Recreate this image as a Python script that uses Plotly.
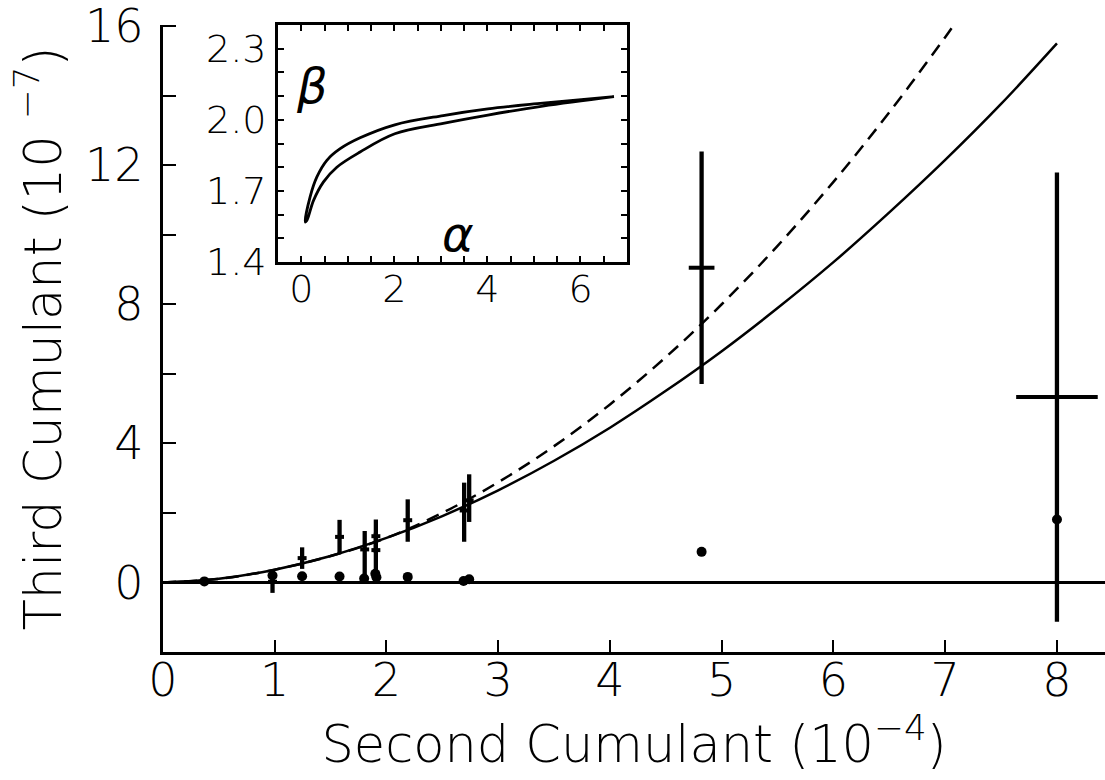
import plotly.graph_objects as go

# ---------------- data ----------------
# model curves (main panel)
solid_x = [0, 0.5, 1.0, 1.5, 2.0, 2.5, 3.0, 3.5, 4.0, 4.5, 5.0, 5.5, 6.0, 6.5, 7.0, 7.5, 8.0]
solid_y = [0, 0.105, 0.367, 0.76, 1.28, 1.91, 2.65, 3.50, 4.45, 5.51, 6.65, 7.89, 9.21, 10.64, 12.15, 13.76, 15.5]
dash_x = [0, 0.5, 1.0, 1.5, 2.0, 2.5, 3.0, 3.5, 4.0, 4.5, 5.0, 5.5, 6.0, 6.5, 7.0, 7.07]
dash_y = [0, 0.105, 0.367, 0.76, 1.28, 2.0, 2.88, 3.92, 5.12, 6.48, 8.0, 9.68, 11.52, 13.52, 15.68, 16.0]

# measurements with error bars
cross_x = [0.98, 1.245, 1.58, 1.805, 1.905, 1.905, 2.19, 2.695, 2.74, 4.82, 8.0]
cross_y = [0.02, 0.70, 1.31, 0.95, 1.33, 0.93, 1.79, 2.07, 2.36, 9.05, 5.33]
cross_err_up = [0.32, 0.31, 0.49, 0.53, 0.48, 0.50, 0.60, 0.80, 0.75, 3.34, 6.46]
cross_err_dn = [0.32, 0.31, 0.49, 0.74, 0.48, 0.70, 0.62, 0.90, 0.62, 3.34, 6.46]
cross_xerr = [0.04, 0.04, 0.04, 0.04, 0.04, 0.04, 0.04, 0.04, 0.04, 0.115, 0.365]

# filled dots
dot_x = [0.37, 0.98, 1.245, 1.58, 1.80, 1.90, 1.91, 2.19, 2.69, 2.74, 4.82, 8.0]
dot_y = [0.03, 0.20, 0.18, 0.17, 0.11, 0.25, 0.15, 0.16, 0.04, 0.09, 0.88, 1.81]

# inset: beta vs alpha (closed loop: upper branch then lower branch)
inset_up_a = [0.086, 0.19, 0.336, 0.55, 0.836, 1.264, 2.01, 3.05, 4.01, 5.19, 6.72]
inset_up_b = [1.569, 1.675, 1.759, 1.829, 1.878, 1.924, 1.979, 2.018, 2.046, 2.070, 2.098]
inset_lo_a = [6.72, 5.19, 4.01, 3.05, 2.01, 1.264, 0.764, 0.478, 0.264, 0.12, 0.086]
inset_lo_b = [2.098, 2.058, 2.020, 1.985, 1.941, 1.864, 1.800, 1.738, 1.660, 1.575, 1.569]

main_xticks = [0, 1, 2, 3, 4, 5, 6, 7, 8]
main_yticks = [0, 4, 8, 12, 16]
inset_xticks = [0, 2, 4, 6]
inset_yticks = [1.4, 1.7, 2.0, 2.3]

FONT = "DejaVu Sans"
WGT = 200
fig = go.Figure()

fig.add_trace(go.Scatter(x=solid_x, y=solid_y, mode="lines", line=dict(color="black", width=2.5, shape="spline"),
                         showlegend=False, hoverinfo="skip"))
fig.add_trace(go.Scatter(x=dash_x, y=dash_y, mode="lines",
                         line=dict(color="black", width=2.5, dash="13px,8px", shape="spline"),
                         showlegend=False, hoverinfo="skip"))
fig.add_trace(go.Scatter(
    x=cross_x, y=cross_y, mode="markers",
    marker=dict(size=1, color="rgba(0,0,0,0)"),
    error_y=dict(type="data", symmetric=False, array=cross_err_up, arrayminus=cross_err_dn,
                 thickness=4.3, width=0, color="black"),
    error_x=dict(type="data", array=cross_xerr, thickness=4, width=0, color="black"),
    showlegend=False, hoverinfo="skip"))
fig.add_trace(go.Scatter(x=dot_x, y=dot_y, mode="markers",
                         marker=dict(size=10, color="black", line=dict(width=0)),
                         showlegend=False, hoverinfo="skip"))

# inset
fig.add_trace(go.Scatter(x=inset_up_a + inset_lo_a, y=inset_up_b + inset_lo_b, mode="lines",
                         line=dict(color="black", width=2.8, shape="spline"),
                         xaxis="x2", yaxis="y2", showlegend=False, hoverinfo="skip"))

L, R, T, B = 163, 0, 25, 128
W, H = 1105, 780
pw, ph = W - L - R, H - T - B

def px_to_dom_x(px):
    return (px - L) / pw

def px_to_dom_y(py):
    return (H - B - py) / ph

fig.update_layout(
    width=W, height=H,
    margin=dict(l=L, r=R, t=T, b=B, pad=0),
    paper_bgcolor="white", plot_bgcolor="white",
    font=dict(family=FONT, color="black", size=46, weight=WGT),
    showlegend=False,
    xaxis=dict(
        range=[0, 8.43], domain=[0, 1],
        tickvals=main_xticks, ticktext=[str(v) for v in main_xticks],
        ticks="inside", ticklen=12, tickwidth=2, tickcolor="black",
        showline=True, linewidth=3.3, linecolor="black",
        showgrid=False, zeroline=False,
        tickfont=dict(size=46, family=FONT, weight=WGT),
        ticklabelstandoff=-14, ticklabeloverflow="allow",
        title=dict(text="Second Cumulant (10<sup>−4</sup>)", font=dict(size=51, family=FONT, weight=WGT), standoff=20),
    ),
    yaxis=dict(
        range=[-2, 16.03], domain=[0, 1],
        tickvals=main_yticks, ticktext=[str(v) for v in main_yticks],
        ticks="inside", ticklen=13, tickwidth=2, tickcolor="black",
        minor=dict(dtick=2, tick0=0, ticks="inside", ticklen=13, tickwidth=2, tickcolor="black"),
        showline=True, linewidth=3.3, linecolor="black",
        showgrid=False,
        zeroline=True, zerolinewidth=3, zerolinecolor="black",
        tickfont=dict(size=46, family=FONT, weight=WGT),
        ticklabelstandoff=7, ticklabeloverflow="allow",
        title=dict(text="Third Cumulant (10 <sup>−7</sup>)", font=dict(size=51, family=FONT, weight=WGT), standoff=8),
    ),
    xaxis2=dict(
        range=[-0.5, 7.0], domain=[px_to_dom_x(278), px_to_dom_x(627)], anchor="y2",
        tickvals=inset_xticks, ticktext=[str(v) for v in inset_xticks],
        ticks="inside", ticklen=6, tickwidth=2, tickcolor="black",
        minor=dict(dtick=0.5, tick0=0, ticks="inside", ticklen=6, tickwidth=2, tickcolor="black"),
        showline=True, linewidth=3, linecolor="black", mirror="allticks",
        showgrid=False, zeroline=False,
        tickfont=dict(size=38, family=FONT, weight=WGT),
        ticklabelstandoff=-9, ticklabeloverflow="allow",
    ),
    yaxis2=dict(
        range=[1.4, 2.4], domain=[px_to_dom_y(262), 1.0], anchor="x2",
        tickvals=inset_yticks, ticktext=["1.4", "1.7", "2.0", "2.3"],
        ticks="inside", ticklen=6, tickwidth=2, tickcolor="black",
        minor=dict(dtick=0.1, tick0=1.4, ticks="inside", ticklen=6, tickwidth=2, tickcolor="black"),
        showline=True, linewidth=3, linecolor="black", mirror="allticks",
        showgrid=False, zeroline=False,
        tickfont=dict(size=38, family=FONT, weight=WGT),
        ticklabelstandoff=1, ticklabeloverflow="allow",
    ),
    annotations=[
        dict(x=0.24, y=2.144, xref="x2", yref="y2", text="<i>β</i>", showarrow=False,
             font=dict(size=48, family=FONT, weight=WGT), xanchor="center", yanchor="middle"),
        dict(x=3.36, y=1.518, xref="x2", yref="y2", text="<i>α</i>", showarrow=False,
             font=dict(size=48, family=FONT, weight=WGT), xanchor="center", yanchor="middle"),
    ],
)

fig.write_html("out.html")
